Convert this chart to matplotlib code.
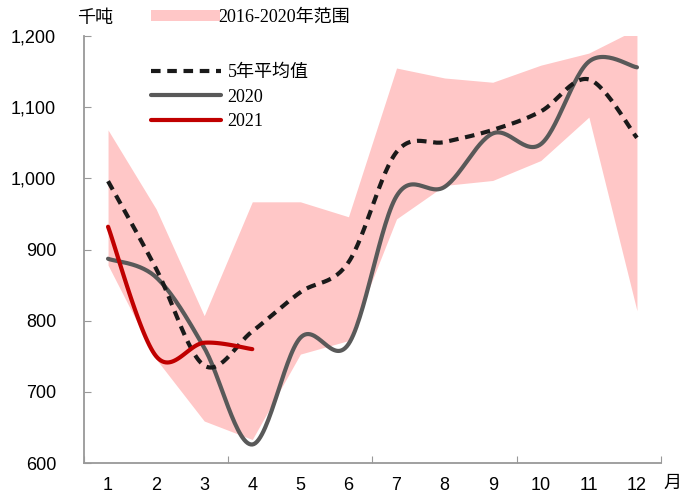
import numpy as np
import matplotlib
matplotlib.use("Agg")
import matplotlib.pyplot as plt
from matplotlib.patches import Patch
from matplotlib.lines import Line2D

# Monthly data (thousand tonnes)
months = np.arange(1, 13)
month_labels = [str(m) for m in months]
range_low = [878, 746, 659, 633, 753, 772, 943, 990, 997, 1025, 1086, 814]
range_high = [1068, 957, 807, 967, 967, 946, 1155, 1141, 1135, 1159, 1176, 1210]
avg_5yr = [996, 873, 737, 785, 840, 882, 1037, 1051, 1068, 1094, 1139, 1057]
y2020 = [887, 861, 762, 626, 776, 767, 975, 988, 1063, 1048, 1164, 1156]
m2021 = [1, 2, 3, 4]
y2021 = [932, 750, 769, 760]

yticks = [600, 700, 800, 900, 1000, 1100, 1200]

cjk_serif = ["Liberation Serif", "Noto Sans CJK SC", "DejaVu Sans"]
plt.rcParams["font.family"] = ["Liberation Sans", "Noto Sans CJK SC", "DejaVu Sans"]


def smooth(x, y, n=30):
    """Cubic Bezier smoothing through the points (Catmull-Rom style)."""
    x = np.asarray(x, float)
    y = np.asarray(y, float)
    pts = np.column_stack([x, y])
    out = []
    for i in range(len(pts) - 1):
        p0 = pts[i - 1] if i > 0 else pts[i]
        p1 = pts[i]
        p2 = pts[i + 1]
        p3 = pts[i + 2] if i + 2 < len(pts) else pts[i + 1]
        c1 = p1 + (p2 - p0) / 6.0
        c2 = p2 - (p3 - p1) / 6.0
        t = np.linspace(0, 1, n, endpoint=(i == len(pts) - 2))[:, None]
        seg = ((1 - t) ** 3) * p1 + 3 * ((1 - t) ** 2) * t * c1 + 3 * (1 - t) * t ** 2 * c2 + t ** 3 * p2
        out.append(seg)
    out = np.vstack(out)
    return out[:, 0], out[:, 1]


fig = plt.figure(figsize=(6.8, 4.95), dpi=100)
ax = fig.add_axes([84 / 680, 1 - 463 / 495, (661 - 84) / 680, (463 - 36) / 495])

band_color = "#FFC7C7"
ax.fill_between(months, range_low, range_high, color=band_color, linewidth=0, zorder=1)

xs, ys = smooth(months, avg_5yr)
ax.plot(xs, ys, color="#1A1A1A", lw=3.0, dashes=(2.3, 1.6), zorder=3)
xs, ys = smooth(months, y2020)
ax.plot(xs, ys, color="#595959", lw=3.0, solid_capstyle="round", zorder=2)
xs, ys = smooth(m2021, y2021)
ax.plot(xs, ys, color="#C00000", lw=3.0, solid_capstyle="round", zorder=4)

ax.set_xlim(0.5, 12.5)
ax.set_ylim(600, 1200)
ax.set_yticks(yticks)
ax.set_yticklabels([f"{v:,}" for v in yticks], fontsize=13)
ax.set_xticks([0.5, 3.5, 6.5, 9.5, 12.5])
ax.set_xticklabels([])
ax.set_xticks(months, minor=True)
ax.set_xticklabels(month_labels, minor=True, fontsize=13)
ax.tick_params(axis="x", which="minor", length=0, pad=10)
ax.tick_params(axis="x", which="major", direction="in", length=5, color="#999999")
ax.tick_params(axis="y", direction="in", length=5, color="#999999", pad=20)
for lbl in ax.get_yticklabels():
    lbl.set_horizontalalignment("right")

for side in ("top", "right"):
    ax.spines[side].set_visible(False)
for side in ("left", "bottom"):
    ax.spines[side].set_color("#999999")
    ax.spines[side].set_linewidth(1.3)

fig.text(77 / 680, 1 - 18 / 495, "千吨", family=cjk_serif, fontsize=13, va="center", ha="left")
fig.text(663 / 680, 1 - 483 / 495, "月", family=cjk_serif, fontsize=13, va="center", ha="left")

leg1 = ax.legend(handles=[Patch(facecolor=band_color, edgecolor="none", label="2016-2020年范围")],
                 loc="upper left", bbox_to_anchor=(151 / 680, 1 - 9 / 495),
                 bbox_transform=fig.transFigure, frameon=False,
                 prop={"family": cjk_serif, "size": 13}, handlelength=3.8, handleheight=0.6,
                 handletextpad=-0.1, borderpad=0, borderaxespad=0)
ax.add_artist(leg1)

handles = [
    Line2D([], [], color="#1A1A1A", lw=3.0, dashes=(2.3, 1.6), label="5年平均值"),
    Line2D([], [], color="#595959", lw=3.0, solid_capstyle="round", label="2020"),
    Line2D([], [], color="#C00000", lw=3.0, solid_capstyle="round", label="2021"),
]
ax.legend(handles=handles, loc="upper left", bbox_to_anchor=(151 / 680, 1 - 64 / 495),
          bbox_transform=fig.transFigure, frameon=False,
          prop={"family": cjk_serif, "size": 13}, handlelength=3.9,
          handletextpad=0.35, labelspacing=0.42, borderpad=0, borderaxespad=0)

fig.savefig("out.png", dpi=100)
